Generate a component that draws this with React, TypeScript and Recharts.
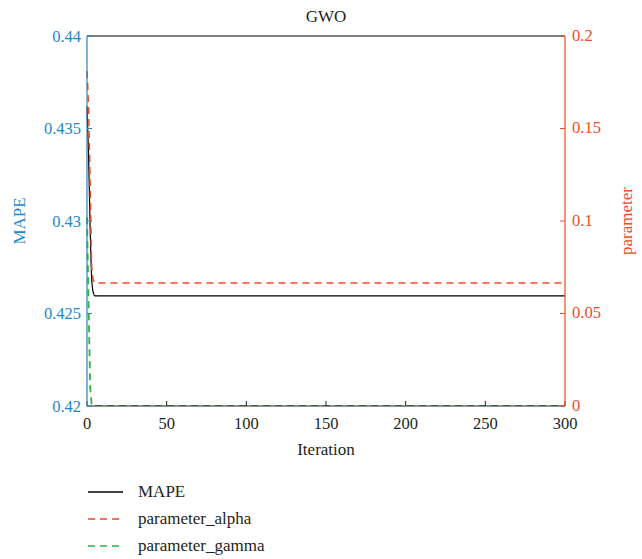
import React from "react";
import {
  LineChart,
  Line,
  XAxis,
  YAxis,
  ReferenceLine,
} from "recharts";

const iterations = [0, 1, 2, 3, 4, 5, 300];
const mape = [0.4362, 0.4335, 0.4295, 0.4268, 0.4261, 0.42595, 0.42595];
const parameterAlpha = [0.181, 0.16, 0.12, 0.075, 0.068, 0.0665, 0.0665];
const parameterGamma = [0.102, 0.055, 0.01, 0, 0, 0, 0];

const xTicks = [0, 50, 100, 150, 200, 250, 300];
const mapeTicks = [0.42, 0.425, 0.43, 0.435, 0.44];
const paramTicks = [0, 0.05, 0.1, 0.15, 0.2];

const BLUE = "#1e88c8";
const RED = "#f04a26";
const GREEN = "#2fb24a";
const DARK = "#231f20";
const FONT = '"Liberation Serif", "DejaVu Serif", serif';

const data = iterations.map((it, i) => ({
  iteration: it,
  mape: mape[i],
  alpha: parameterAlpha[i],
  gamma: parameterGamma[i],
}));

const legendItems = [
  { name: "MAPE", color: "#000000", dash: undefined },
  { name: "parameter_alpha", color: RED, dash: "7 5" },
  { name: "parameter_gamma", color: GREEN, dash: "7 5" },
];

const makeTick = (color: string, anchor: string, dx: number, dy: number, digits: number) =>
  (props: any) => {
    const { x, y, payload } = props;
    return (
      <text
        x={x + dx}
        y={y + dy}
        fill={color}
        textAnchor={anchor}
        dominantBaseline="central"
        style={{ fontFamily: FONT, fontSize: 16.5 }}
      >
        {String(Number(Number(payload.value).toFixed(digits)))}
      </text>
    );
  };

const XTick = makeTick(DARK, "middle", 0, 22, 0);
const LeftTick = makeTick(BLUE, "end", -11, 0, 3);
const RightTick = makeTick(RED, "start", 12, -1, 2);

export default function App() {
  return (
    <div
      style={{
        position: "absolute",
        left: 0,
        top: 0,
        width: 642,
        height: 559,
        background: "#fff",
        fontFamily: FONT,
      }}
    >
      <LineChart
        width={642}
        height={559}
        data={data}
        margin={{ top: 36, right: 0, bottom: 0, left: 0 }}
      >
        <XAxis
          dataKey="iteration"
          type="number"
          domain={[0, 300]}
          ticks={xTicks}
          height={153}
          tickSize={-5}
          tickMargin={0}
          axisLine={{ stroke: DARK }}
          tickLine={{ stroke: DARK }}
          tick={XTick}
          yAxisId="left"
        />
        <YAxis
          yAxisId="left"
          orientation="left"
          width={87}
          domain={[0.42, 0.44]}
          ticks={mapeTicks}
          allowDataOverflow
          tickSize={-5}
          tickMargin={0}
          axisLine={{ stroke: BLUE, strokeWidth: 1.2 }}
          tickLine={{ stroke: BLUE }}
          tick={LeftTick}
        />
        <YAxis
          yAxisId="right"
          orientation="right"
          width={77}
          domain={[0, 0.2]}
          ticks={paramTicks}
          allowDataOverflow
          tickSize={-5}
          tickMargin={0}
          axisLine={{ stroke: RED, strokeWidth: 1.2 }}
          tickLine={{ stroke: RED }}
          tick={RightTick}
        />
        <ReferenceLine yAxisId="left" y={0.44} stroke="#000" strokeWidth={1} />
        <Line
          yAxisId="left"
          dataKey="mape"
          type="monotone"
          stroke="#000"
          strokeWidth={1.2}
          dot={false}
          isAnimationActive={false}
        />
        <Line
          yAxisId="right"
          dataKey="alpha"
          type="monotone"
          stroke={RED}
          strokeWidth={1.5}
          strokeDasharray="7 5"
          dot={false}
          isAnimationActive={false}
        />
        <Line
          yAxisId="right"
          dataKey="gamma"
          type="linear"
          stroke={GREEN}
          strokeWidth={1.8}
          strokeDasharray="7 5"
          dot={false}
          isAnimationActive={false}
        />
      </LineChart>

      <div
        style={{
          position: "absolute",
          left: 87,
          width: 478,
          top: 7,
          textAlign: "center",
          fontSize: 17,
          color: DARK,
        }}
      >
        GWO
      </div>
      <div
        style={{
          position: "absolute",
          left: 87,
          width: 478,
          top: 440,
          textAlign: "center",
          fontSize: 17,
          color: DARK,
        }}
      >
        Iteration
      </div>
      <div
        style={{
          position: "absolute",
          left: 20,
          top: 221,
          transform: "translate(-50%, -50%) rotate(-90deg)",
          fontSize: 17,
          color: BLUE,
          whiteSpace: "nowrap",
        }}
      >
        MAPE
      </div>
      <div
        style={{
          position: "absolute",
          left: 627,
          top: 221,
          transform: "translate(-50%, -50%) rotate(-90deg)",
          fontSize: 17,
          color: RED,
          whiteSpace: "nowrap",
        }}
      >
        parameter
      </div>

      {legendItems.map((item, i) => (
        <div
          key={item.name}
          style={{
            position: "absolute",
            left: 88,
            top: 482 + i * 27,
            height: 20,
            display: "flex",
            alignItems: "center",
            fontSize: 17,
            color: DARK,
          }}
        >
          <svg width={36} height={20} style={{ marginRight: 14 }}>
            <line
              x1={0}
              y1={10}
              x2={35}
              y2={10}
              stroke={item.color}
              strokeWidth={1.5}
              strokeDasharray={item.dash}
            />
          </svg>
          <span>{item.name}</span>
        </div>
      ))}
    </div>
  );
}
